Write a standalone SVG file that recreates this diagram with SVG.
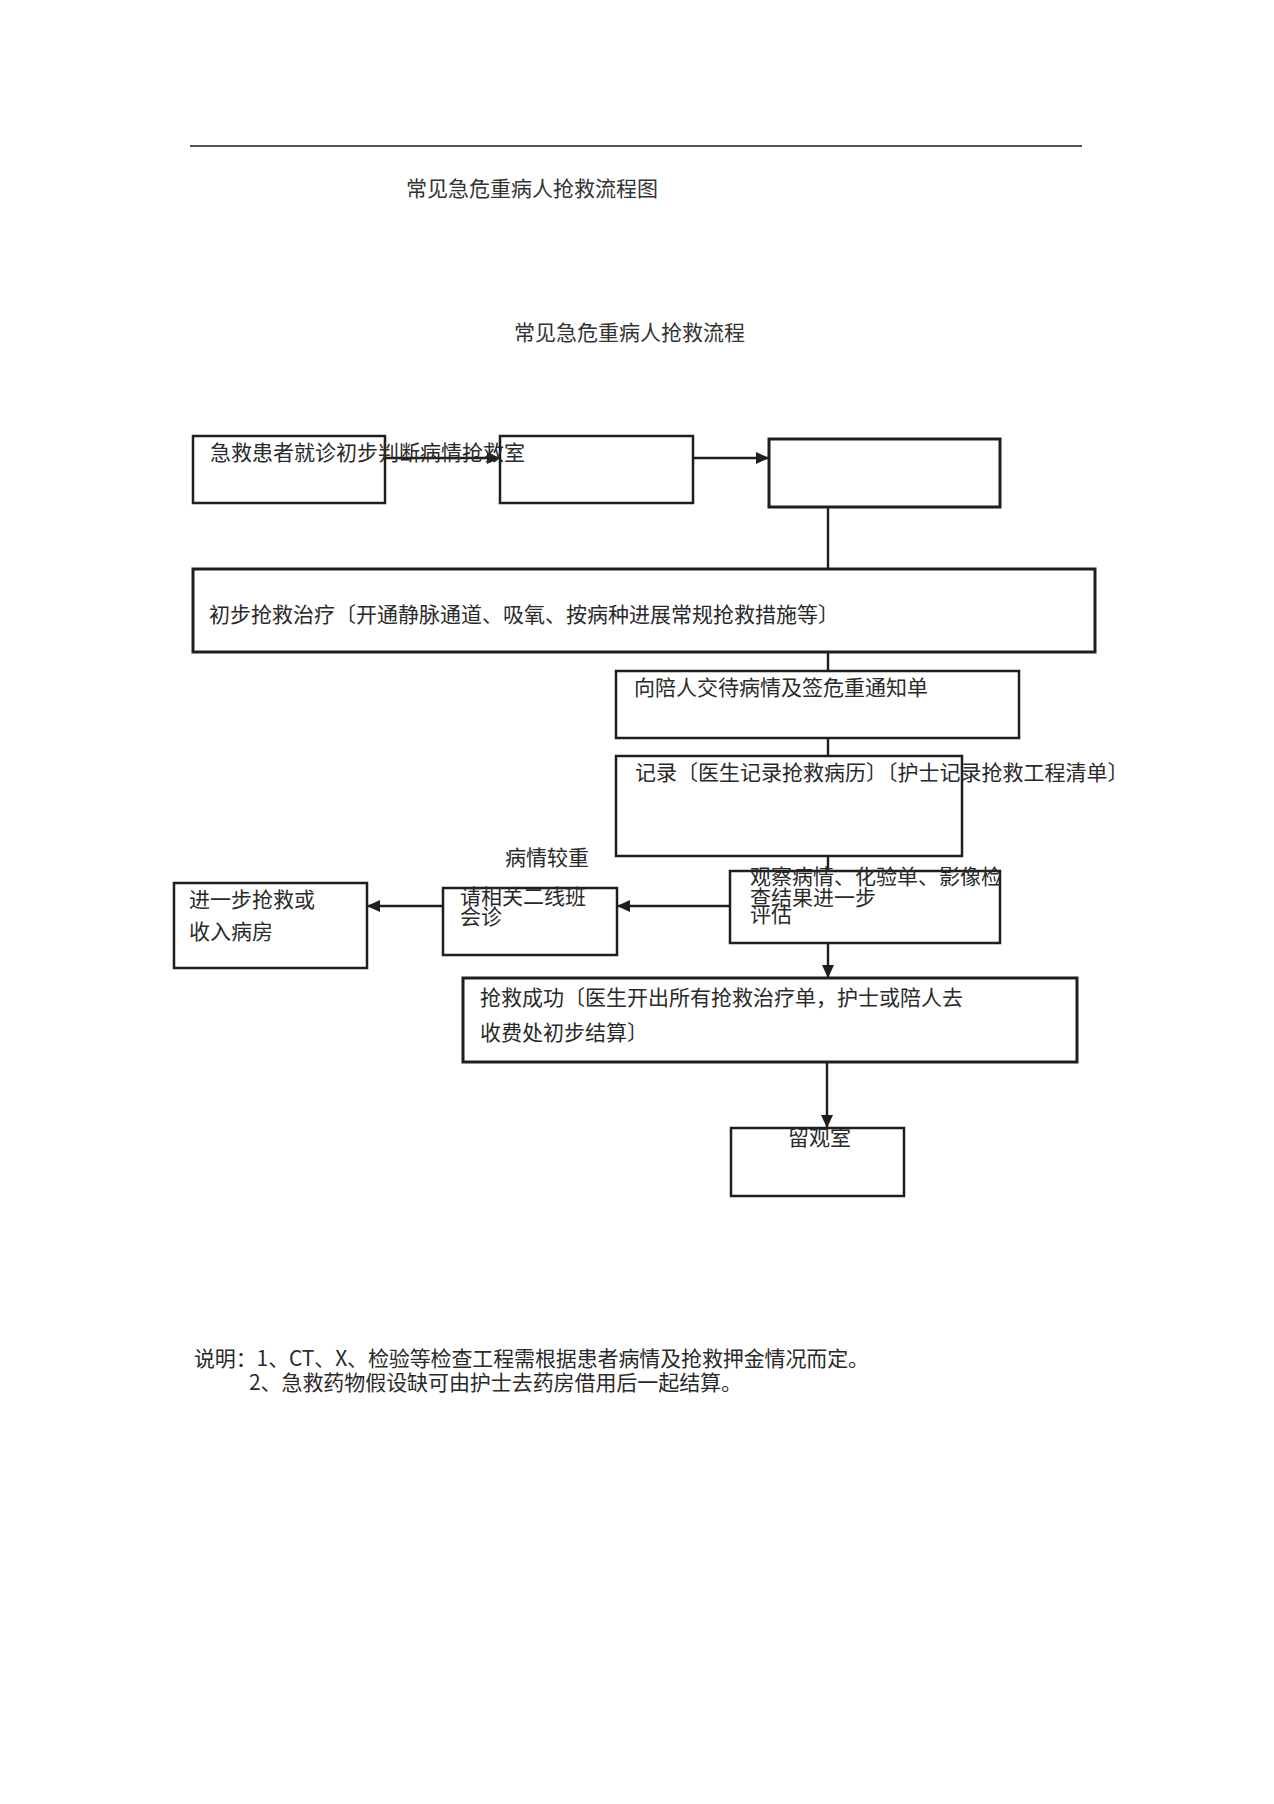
<svg xmlns="http://www.w3.org/2000/svg" width="1274" height="1804" viewBox="0 0 1274 1804">
<style>
text{font-family:"Noto Sans CJK SC","Noto Sans",sans-serif;font-size:21px;fill:#2a2a2a}
.title{fill:#333}
.box{fill:none;stroke:#1e1e1e;stroke-width:2.5}
.thick{stroke-width:3}
.conn{stroke:#1e1e1e;stroke-width:2.4;fill:none}
.arr{marker-end:url(#ah)}
</style>
<defs>
<marker id="ah" markerWidth="14" markerHeight="14" refX="13" refY="7" orient="auto" markerUnits="userSpaceOnUse">
<path d="M0,1 L13,7 L0,13 Z" fill="#1e1e1e"/>
</marker>
</defs>
<rect width="1274" height="1804" fill="#fff"/>
<line x1="190" y1="146" x2="1082" y2="146" stroke="#555" stroke-width="2"/>
<text class="title" x="406" y="196">常见急危重病人抢救流程图</text>
<text class="title" x="514" y="340">常见急危重病人抢救流程</text>

<g id="connectors">
<line class="conn arr" x1="386" y1="458" x2="500" y2="458" stroke-width="3"/>
<line class="conn arr" x1="693" y1="458" x2="769" y2="458"/>
<line class="conn" x1="828" y1="507" x2="828" y2="569"/>
<line class="conn" x1="828" y1="652" x2="828" y2="671"/>
<line class="conn" x1="828" y1="738" x2="828" y2="756"/>
<line class="conn" x1="828" y1="856" x2="828" y2="871"/>
<line class="conn arr" x1="730" y1="906" x2="617" y2="906"/>
<line class="conn arr" x1="443" y1="906" x2="367" y2="906"/>
<line class="conn arr" x1="828" y1="943" x2="828" y2="978"/>
<line class="conn arr" x1="827" y1="1062" x2="827" y2="1128"/>
</g>

<g id="n1"><rect class="box" x="193" y="436" width="192" height="67"/><text x="210" y="460">急救患者就诊初步判断病情抢救室</text></g>
<g id="n2"><rect class="box" x="500" y="436" width="193" height="67"/></g>
<g id="n3"><rect class="box thick" x="769" y="439" width="231" height="68"/></g>
<g id="n4"><rect class="box thick" x="193" y="569" width="902" height="83"/><text x="209" y="622">初步抢救治疗〔开通静脉通道、吸氧、按病种进展常规抢救措施等〕</text></g>
<g id="n5"><rect class="box" x="616" y="671" width="403" height="67" stroke-width="2"/><text x="634" y="695">向陪人交待病情及签危重通知单</text></g>
<g id="n6"><rect class="box" x="616" y="756" width="346" height="100"/><text x="635" y="780">记录〔医生记录抢救病历〕〔护士记录抢救工程清单〕</text></g>
<g id="n7"><rect class="box" x="730" y="871" width="270" height="72"/><text x="750" y="884">观察病情、化验单、影像检</text><text x="750" y="905">查结果进一步</text><text x="750" y="922">评估</text></g>
<g id="lbl"><text x="505" y="865">病情较重</text></g>
<g id="n8"><rect class="box" x="443" y="888" width="174" height="67" stroke-width="2"/><text x="460" y="904">请相关二线班</text><text x="460" y="924">会诊</text></g>
<g id="n9"><rect class="box" x="174" y="883" width="193" height="85" stroke-width="2"/><text x="189" y="907">进一步抢救或</text><text x="189" y="939">收入病房</text></g>
<g id="n10"><rect class="box thick" x="463" y="978" width="614" height="84"/><text x="480" y="1005">抢救成功〔医生开出所有抢救治疗单，护士或陪人去</text><text x="480" y="1040">收费处初步结算〕</text></g>
<g id="n11"><rect class="box" x="731" y="1128" width="173" height="68"/><text x="788" y="1145">留观室</text></g>

<text x="194" y="1366" textLength="675" lengthAdjust="spacing">说明：1、CT、X、检验等检查工程需根据患者病情及抢救押金情况而定。</text>
<text x="249" y="1390" textLength="493" lengthAdjust="spacing">2、急救药物假设缺可由护士去药房借用后一起结算。</text>
</svg>
